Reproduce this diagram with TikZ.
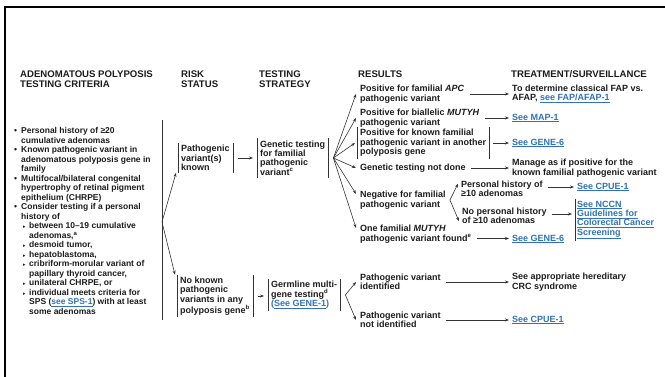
\documentclass[tikz,border=0pt]{standalone}
\usepackage{fontspec}
\setmainfont{Liberation Sans}
\newfontfamily\symfont{DejaVu Sans}
\usetikzlibrary{arrows.meta}
\definecolor{Ctext}{HTML}{1C1C1C}
\definecolor{Cline}{HTML}{333333}
\definecolor{Clink}{HTML}{2F72B8}
\newcommand{\lnk}[1]{\textcolor{Clink}{\underline{#1}}}
\newcommand{\bul}{\makebox[7pt][l]{•}}
\newcommand{\ind}{\hspace*{7pt}}
\newcommand{\subbul}{\hspace*{9pt}\makebox[6pt][l]{{\symfont\fontsize{5}{5}\selectfont ▸}}}
\newcommand{\subind}{\hspace*{15pt}}

\begin{document}
\begin{tikzpicture}[x=1pt,y=-1pt,
  txt/.style={anchor=west,inner sep=0pt,align=left,text=Ctext,
    font=\fontsize{9}{9.4}\selectfont\bfseries},
  lst/.style={txt,font=\fontsize{8.5}{9.5}\selectfont\bfseries},
  head/.style={txt,font=\fontsize{9.6}{10}\selectfont\bfseries},
  brk/.style={txt,inner xsep=3pt,inner ysep=2pt},
  ln/.style={draw=Cline,line width=0.6pt},
  arr/.style={ln,-{Stealth[length=4pt,width=3pt]}}]
\useasboundingbox (0,0) rectangle (665,377);
% frame
\draw[line width=1.6pt] (5,377) -- (5,7) -- (665,7);

% column heads
\node[head] (hcrit) at (20,79) {ADENOMATOUS POLYPOSIS\\TESTING CRITERIA};
\node[head] (hrisk) at (181,79) {RISK\\STATUS};
\node[head] (hstrat) at (259,79) {TESTING\\STRATEGY};
\node[head] (hres) at (358,74) {RESULTS};
\node[head] (htreat) at (511,74) {TREATMENT/SURVEILLANCE};

% criteria
\node[lst] (crit) at (14,221) {\bul Personal history of ≥20\\
\ind cumulative adenomas\\
\bul Known pathogenic variant in\\
\ind adenomatous polyposis gene in\\
\ind family\\
\bul Multifocal/bilateral congenital\\
\ind hypertrophy of retinal pigment\\
\ind epithelium (CHRPE)\\
\bul Consider testing if a personal\\
\ind history of\\
\subbul between 10--19 cumulative\\
\subind adenomas,\textsuperscript{a}\\
\subbul desmoid tumor,\\
\subbul hepatoblastoma,\\
\subbul cribriform-morular variant of\\
\subind papillary thyroid cancer,\\
\subbul unilateral CHRPE, or\\
\subbul individual meets criteria for\\
\subind SPS (\lnk{see SPS-1}) with at least\\
\subind some adenomas};
\coordinate (cbtop) at (162,120);
\coordinate (cbbot) at (162,320);
\coordinate (cbmid) at (162,222);

% risk status and strategy
\node[brk] (known) at (178,158) {Pathogenic\\variant(s)\\known};
\node[brk] (genet) at (257,158) {Genetic testing\\for familial\\pathogenic\\variant\textsuperscript{c}};
\node[brk] (nokn) at (177,296) {No known\\pathogenic\\variants in any\\polyposis gene\textsuperscript{b}};
\node[brk] (germ) at (268,295) {Germline multi-\\gene testing\textsuperscript{d}\\\textcolor{Clink}{(\underline{See GENE-1})}};

% results
\node[txt] (rapc) at (360,94) {Positive for familial \textit{APC}\\pathogenic variant};
\node[txt] (rmut) at (360,118) {Positive for biallelic \textit{MUTYH}\\pathogenic variant};
\node[brk] (rfam) at (357,143) {Positive for known familial\\pathogenic variant in another\\polyposis gene};
\node[txt] (rnot) at (360,168) {Genetic testing not done};
\node[txt] (rneg) at (360,200) {Negative for familial\\pathogenic variant};
\node[txt] (rone) at (360,234) {One familial \textit{MUTYH}\\pathogenic variant found\textsuperscript{e}};
\node[txt] (ph) at (461,189) {Personal history of\\≥10 adenomas};
\node[txt] (nph) at (462,216) {No personal history\\of ≥10 adenomas};
\node[txt] (pvi) at (360,282) {Pathogenic variant\\identified};
\node[txt] (pvni) at (360,320) {Pathogenic variant\\not identified};

% treatment
\node[txt] (tfap) at (512,94) {To determine classical FAP vs.\\AFAP, \lnk{see FAP/AFAP-1}};
\node[txt] (tmap) at (512,118) {\lnk{See MAP-1}};
\node[txt] (tgene) at (512,143) {\lnk{See GENE-6}};
\node[txt] (tman) at (512,168) {Manage as if positive for the\\known familial pathogenic variant};
\node[txt] (tcpue) at (577,187) {\lnk{See CPUE-1}};
\node[brk,inner xsep=2pt] (tnccn) at (575,220) {\lnk{See NCCN}\\\lnk{Guidelines for}\\\lnk{Colorectal Cancer}\\\lnk{Screening}};
\node[txt] (tgene2) at (512,239) {\lnk{See GENE-6}};
\node[txt] (tcrc) at (512,282) {See appropriate hereditary\\CRC syndrome};
\node[txt] (tcpue2) at (512,320) {\lnk{See CPUE-1}};

% brackets
\draw[ln] (cbtop) -- (cbbot);
\foreach \n in {known,genet,rfam,nokn,germ}
  \draw[ln] (\n.north west) -- (\n.south west) (\n.north east) -- (\n.south east);
\draw[ln] (tnccn.north west) -- (tnccn.south west);

% connectors
\draw[arr] (cbmid) -- ([xshift=-2pt]known.south west);
\draw[arr] (cbmid) -- ([xshift=-2pt]nokn.north west);
\draw[arr] ([xshift=5pt]known.east) -- ([xshift=-4pt]known.east -| genet.west);
\draw[arr] ([xshift=5pt]nokn.east) -- ([xshift=-4pt]nokn.east -| germ.west);
\coordinate (gfan) at ([xshift=5pt]genet.east);
\foreach \t in {rapc,rmut,rnot}
  \draw[arr] (gfan) -- ([xshift=-4pt]\t.west);
\draw[arr] (gfan) -- ([xshift=-2pt]rfam.west);
\draw[arr] (gfan) -- ([xshift=-4pt,yshift=-3pt]rneg.north west);
\draw[arr] (gfan) -- ([xshift=-4pt,yshift=-3pt]rone.north west);
\coordinate (mfan) at ([xshift=5pt]germ.east);
\draw[arr] (mfan) -- ([xshift=-4pt]pvi.west);
\draw[arr] (mfan) -- ([xshift=-4pt]pvni.west);
\coordinate (nfan) at ([xshift=4pt]rneg.east);
\draw[arr] (nfan) -- ([xshift=-3pt,yshift=-3pt]ph.north west);
\draw[arr] (nfan) -- ([xshift=-3pt,yshift=3pt]nph.south west);

\draw[arr] ([xshift=5pt]rapc.east) -- ([xshift=-3pt]rapc.east -| tfap.west);
\draw[arr] ([xshift=5pt]rmut.east) -- ([xshift=-3pt]rmut.east -| tmap.west);
\draw[arr] ([xshift=4pt]rfam.east) -- ([xshift=-3pt]rfam.east -| tgene.west);
\draw[arr] ([xshift=5pt]rnot.east) -- ([xshift=-3pt]rnot.east -| tman.west);
\draw[arr] ([xshift=5pt,yshift=-4.5pt]rone.east) -- ([xshift=-3pt,yshift=-4.5pt]rone.east -| tgene2.west);
\draw[arr] ([xshift=5pt,yshift=2pt]ph.east) -- ([xshift=-3pt,yshift=2pt]ph.east -| tcpue.west);
\draw[arr] ([xshift=5pt,yshift=2pt]nph.east) -- ([xshift=-3pt,yshift=2pt]nph.east -| tnccn.west);
\draw[arr] ([xshift=5pt]pvi.east) -- ([xshift=-3pt]pvi.east -| tcrc.west);
\draw[arr] ([xshift=5pt]pvni.east) -- ([xshift=-3pt]pvni.east -| tcpue2.west);
\end{tikzpicture}
\end{document}
